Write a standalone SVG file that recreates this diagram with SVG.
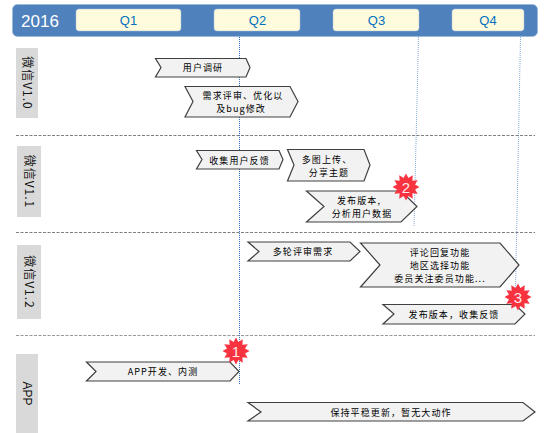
<svg xmlns="http://www.w3.org/2000/svg" width="554" height="433" viewBox="0 0 554 433">
<style>
text{font-family:"Noto Sans CJK SC","Liberation Sans",sans-serif;text-anchor:middle}
.q{fill:#fffbdc;stroke:#a9bdd8;stroke-width:.5}
.qt{font-family:"Liberation Sans",sans-serif;font-size:13px;fill:#0070c0}
.side{fill:#d9d9d9}
.st{font-size:12px;fill:#111;letter-spacing:1px}
.ar{fill:#f2f2f2;stroke:#404040;stroke-width:1.2}
.at{font-size:9px;fill:#000;letter-spacing:1.1px}
.dash{stroke:#7f7f7f;stroke-width:1;stroke-dasharray:3 1.5;fill:none}
.dot{stroke:#2f6fc0;stroke-width:1;stroke-dasharray:1 1;fill:none}
.bt{font-family:"Liberation Sans",sans-serif;font-size:15px;fill:#ffe9e9}
</style>
<defs>
<polygon id="burst" fill="#f8323f" points="13.500,0 9,2.41 11.69,6.75 6.36,6.36 6.75,11.69 2.41,9 0,13.500 -2.41,9 -6.75,11.69 -6.36,6.36 -11.69,6.75 -9,2.41 -13.500,0 -9,-2.41 -11.69,-6.75 -6.36,-6.36 -6.75,-11.69 -2.41,-9 0,-13.500 2.41,-9 6.75,-11.69 6.36,-6.36 11.69,-6.75 9,-2.41"/>
</defs>
<g id="header">
<rect x="12.5" y="4.5" width="525" height="32" rx="5" fill="#4f81bd" stroke="#95b3d7" stroke-width=".6"/>
<text x="40" y="26.500" font-size="17" fill="#fff" style="font-family:'Liberation Sans',sans-serif">2016</text>
</g>
<g id="q1"><rect class="q" x="76" y="9" width="105" height="22" rx="3"/><text class="qt" x="128.500" y="24.500">Q1</text></g>
<g id="q2"><rect class="q" x="214" y="9" width="86" height="22" rx="3"/><text class="qt" x="257.500" y="24.500">Q2</text></g>
<g id="q3"><rect class="q" x="333" y="9" width="86" height="22" rx="3"/><text class="qt" x="376.500" y="24.500">Q3</text></g>
<g id="q4"><rect class="q" x="452" y="9" width="72" height="22" rx="3"/><text class="qt" x="488" y="24.500">Q4</text></g>
<g id="connectors">
<path class="dash" d="M16 135.500H535M16 232.500H535"/>
<path class="dash" stroke-opacity=".8" d="M16 335.500H535"/>
<path class="dot" d="M239.500 37V384"/>
<path class="dot" stroke-opacity=".6" d="M418.500 37L414 227"/>
<path class="dot" stroke-opacity=".6" d="M520.500 37L515 315"/>
</g>
<g id="lane-v10"><rect class="side" x="16" y="48" width="22" height="70"/><text class="st" transform="translate(22.500 83) rotate(90)">微信V1.0</text></g>
<g id="lane-v11"><rect class="side" x="17" y="146" width="24" height="71"/><text class="st" transform="translate(24.500 181.500) rotate(90)">微信V1.1</text></g>
<g id="lane-v12"><rect class="side" x="17" y="245" width="24" height="74"/><text class="st" transform="translate(24.500 282) rotate(90)">微信V1.2</text></g>
<g id="lane-app"><rect class="side" x="16" y="354" width="22" height="79"/><text class="st" style="font-family:'Liberation Sans',sans-serif;letter-spacing:0" transform="translate(23 393.500) rotate(90)">APP</text></g>
<g id="t1"><polygon class="ar" points="155.500,58.500 246,58.500 250,67.500 246,77 155.500,77 161,67.500"/><text class="at" x="203" y="71">用户调研</text></g>
<g id="t2"><polygon class="ar" points="185,86.500 290,86.500 298,101.500 290,117 185,117 193,101.500"/><text class="at" x="243" y="99">需求评审、优化以</text><text class="at" x="241" y="112">及bug修改</text></g>
<g id="t3"><polygon class="ar" points="196.500,150.500 279,150.500 283,159.500 279,169 196.500,169 202,159.500"/><text class="at" x="239.500" y="164">收集用户反馈</text></g>
<g id="t4"><polygon class="ar" points="287.500,149.500 364,149.500 370,165 364,181 287.500,181 294,165"/><text class="at" x="327" y="163">多图上传、</text><text class="at" x="329" y="176">分享主题</text></g>
<g id="t5"><polygon class="ar" points="306.500,191 401,191 417,206.500 401,222 306.500,222 324,206.500"/><text class="at" x="359" y="204">发布版本,</text><text class="at" x="362" y="217">分析用户数据</text></g>
<g id="t6"><polygon class="ar" points="248,242 350,242 360,251.500 350,261 248,261 259,251.500"/><text class="at" x="303" y="255">多轮评审需求</text></g>
<g id="t7"><polygon class="ar" points="360.500,243 500,243 519,265 500,287 360.500,287 380,265"/><text class="at" x="440" y="256">评论回复功能</text><text class="at" x="440" y="269">地区选择功能</text><text class="at" x="440" y="282">委员关注委员功能...</text></g>
<g id="t8"><polygon class="ar" points="383,304.500 515,304.500 525,314 515,324 383,324 394,314"/><text class="at" x="454" y="318">发布版本，收集反馈</text></g>
<g id="t9"><polygon class="ar" points="86.500,362 230,362 239,371.500 230,381 86.500,381 96,371.500"/><text class="at" x="163" y="375">APP开发、内测</text></g>
<g id="t10"><polygon class="ar" points="248,402.500 523,402.500 535,412 523,421 248,421 261,412"/><text class="at" x="391" y="416">保持平稳更新，暂无大动作</text></g>
<g id="badge1"><use href="#burst" x="236" y="351"/><text class="bt" x="236" y="356.500">1</text></g>
<g id="badge2"><use href="#burst" x="406" y="187"/><text class="bt" x="406" y="192.500">2</text></g>
<g id="badge3"><use href="#burst" x="518" y="297"/><text class="bt" x="518" y="302.500">3</text></g>
</svg>
